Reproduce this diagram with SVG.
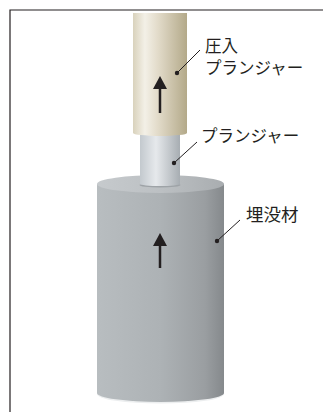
<svg xmlns="http://www.w3.org/2000/svg" width="323" height="412" viewBox="0 0 323 412">
  <defs>
    <linearGradient id="gCream" x1="0" y1="0" x2="1" y2="0">
      <stop offset="0" stop-color="#d9d2bc"/>
      <stop offset="0.22" stop-color="#f3f0e7"/>
      <stop offset="0.45" stop-color="#e3dccb"/>
      <stop offset="1" stop-color="#b3a989"/>
    </linearGradient>
    <linearGradient id="gRod" x1="0" y1="0" x2="1" y2="0">
      <stop offset="0" stop-color="#c3c9ce"/>
      <stop offset="0.4" stop-color="#e6e9ec"/>
      <stop offset="1" stop-color="#a7adb2"/>
    </linearGradient>
    <linearGradient id="gBody" x1="0" y1="0" x2="1" y2="0">
      <stop offset="0" stop-color="#b8bdc0"/>
      <stop offset="0.5" stop-color="#adb2b5"/>
      <stop offset="0.85" stop-color="#9a9ea1"/>
      <stop offset="1" stop-color="#85898c"/>
    </linearGradient>
    <linearGradient id="gTop" x1="0" y1="0" x2="1" y2="0">
      <stop offset="0" stop-color="#c6cacd"/>
      <stop offset="0.5" stop-color="#bcc0c3"/>
      <stop offset="1" stop-color="#a9adb0"/>
    </linearGradient>
    <marker id="dot" markerWidth="6" markerHeight="6" refX="3" refY="3" markerUnits="userSpaceOnUse">
      <circle cx="3" cy="3" r="2.2" fill="#231f20"/>
    </marker>
  </defs>
  <style>
    .lbl { font-family: "Noto Sans CJK JP", "Noto Sans", sans-serif; font-size: 16.5px; fill: #231f20; }
    .lead { stroke: #231f20; stroke-width: 1; fill: none; }
    .arrow-shaft { stroke: #231f20; stroke-width: 2.5; }
    .arrow-head { fill: #231f20; }
  </style>

  <!-- frame -->
  <path d="M10 412 V10 H323" fill="none" stroke="#231f20" stroke-width="1.2"/>

  <!-- embedding material (large cylinder) -->
  <g id="embedding-material">
    <ellipse cx="160.5" cy="394" rx="63.5" ry="9.5" fill="#eceeef"/>
    <ellipse cx="160.5" cy="393" rx="63.5" ry="9" fill="url(#gBody)"/>
    <rect x="97" y="184" width="127" height="209" fill="url(#gBody)"/>
    <ellipse cx="160.5" cy="184" rx="63.5" ry="9" fill="url(#gTop)"/>
    <path d="M160 268 V244" class="arrow-shaft"/>
    <polygon points="160,233 167,246 153,246" class="arrow-head"/>
  </g>

  <!-- plunger rod -->
  <g id="plunger">
    <ellipse cx="160" cy="185" rx="20.5" ry="2.5" fill="#9ea3a7"/>
    <rect x="140" y="130" width="40" height="54" fill="url(#gRod)"/>
    <ellipse cx="160" cy="184" rx="20" ry="2" fill="url(#gRod)"/>
  </g>

  <!-- press-in plunger -->
  <g id="press-plunger">
    <rect x="133" y="13" width="54" height="120" fill="url(#gCream)"/>
    <ellipse cx="160" cy="133" rx="27" ry="3" fill="url(#gCream)"/>
    <path d="M160 113 V87" class="arrow-shaft"/>
    <polygon points="160,76 167,89 153,89" class="arrow-head"/>
  </g>

  <!-- leader lines -->
  <g id="connectors">
    <line x1="177" y1="73" x2="200" y2="50" class="lead" marker-start="url(#dot)"/>
    <line x1="174" y1="163" x2="197" y2="142" class="lead" marker-start="url(#dot)"/>
    <line x1="217" y1="241" x2="240" y2="220" class="lead" marker-start="url(#dot)"/>
  </g>

  <!-- labels -->
  <g id="label-press-plunger">
    <text class="lbl" x="205" y="52">圧入</text>
    <text class="lbl" x="205" y="74">プランジャー</text>
  </g>
  <g id="label-plunger">
    <text class="lbl" x="201" y="142">プランジャー</text>
  </g>
  <g id="label-embedding">
    <text class="lbl" x="246" y="221" style="font-size:17.5px">埋没材</text>
  </g>
</svg>
